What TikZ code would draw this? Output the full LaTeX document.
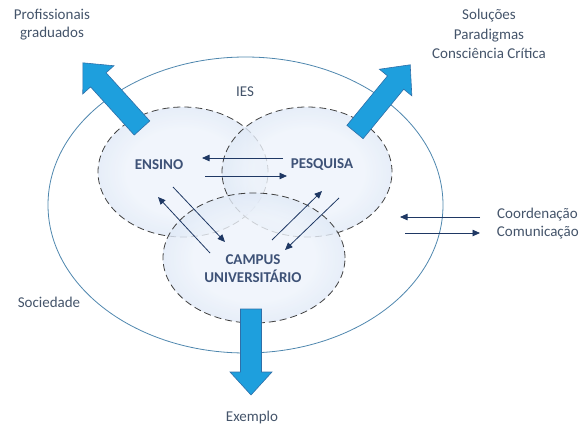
\documentclass[tikz,border=0pt]{standalone}
\usepackage{fontspec}
\setmainfont{Carlito}
\usetikzlibrary{shapes.geometric,arrows.meta}
\definecolor{txt}{HTML}{44546A}
\definecolor{intxt}{HTML}{3E5277}
\definecolor{navy}{HTML}{1F3864}
\definecolor{bigfill}{HTML}{1E9FDD}
\definecolor{bigedge}{HTML}{2F6FA8}
\definecolor{ring}{HTML}{4F87AE}
\definecolor{cin}{HTML}{EEF3FB}
\definecolor{cout}{HTML}{BACFEC}
\pgfdeclareradialshading{glow}{\pgfpoint{0bp}{0bp}}{color(0bp)=(cin); color(16bp)=(cin); color(50bp)=(cout)}
\tikzset{
  lbl/.style={text=txt, font=\fontsize{15}{18}\selectfont, align=center, inner sep=0pt},
  inlbl/.style={lbl, text=intxt, font=\fontsize{15}{18}\selectfont\bfseries},
  zone/.style={ellipse, draw=black!75, dash pattern=on 7pt off 4pt, line width=0.8pt,
    shade, shading=glow, fill opacity=0.8, draw opacity=1, inner sep=0pt},
  link/.style={draw=navy, line width=0.8pt, -{Triangle[length=7.5pt,width=6.5pt]}},
  bigarrow/.style={fill=bigfill, draw=bigedge, line width=0.6pt}
}
\begin{document}
\begin{tikzpicture}[x=1pt,y=1pt]
\useasboundingbox (0,0) rectangle (581,-425);
% society ellipse
\node[ellipse, draw=ring, line width=0.8pt, minimum width=395pt, minimum height=296pt, inner sep=0pt] (soc) at (245.5,-205) {};
% zones
\node[zone, minimum width=170pt, minimum height=130pt] (ens) at (183,-172) {};
\node[zone, minimum width=170pt, minimum height=130pt] (pes) at (307,-172) {};
\node[zone, minimum width=182pt, minimum height=130pt] (cam) at (254,-258) {};
% labels
\node[lbl] (ies) at (245,-92) {IES};
\node[inlbl] (tens) at (159,-165) {ENSINO};
\node[inlbl] (tpes) at (322,-165) {PESQUISA};
\node[inlbl] (tcam) at (253,-269) {CAMPUS\\UNIVERSITÁRIO};
\node[lbl] (tsoc) at (49,-302) {Sociedade};
\node[lbl] (tprof) at (52,-25) {Profissionais\\graduados};
\node[lbl, font=\fontsize{15}{19.5}\selectfont] (tsol) at (489,-34) {Soluções\\Paradigmas\\Consciência Crítica};
\node[lbl, anchor=east] (tcoo) at (578,-215) {Coordenação};
\node[lbl, anchor=east] (tcom) at (579,-233) {Comunicação};
\node[lbl] (texe) at (252,-417) {Exemplo};
% small connectors
\coordinate (a1) at (283,-158); \coordinate (a2) at (202,-158);
\coordinate (b1) at (205,-176); \coordinate (b2) at (287,-176);
\coordinate (c1) at (173,-187); \coordinate (c2) at (225,-242);
\coordinate (d1) at (210,-253); \coordinate (d2) at (158,-197);
\coordinate (e1) at (272,-240); \coordinate (e2) at (322,-191);
\coordinate (f1) at (339,-198); \coordinate (f2) at (285,-250);
\coordinate (g1) at (480,-217); \coordinate (g2) at (400,-217);
\coordinate (h1) at (405,-233); \coordinate (h2) at (480,-233);
\draw[link] (a1) -- (a2);
\draw[link] (b1) -- (b2);
\draw[link] (c1) -- (c2);
\draw[link] (d1) -- (d2);
\draw[link] (e1) -- (e2);
\draw[link] (f1) -- (f2);
\draw[link] (g1) -- (g2);
\draw[link] (h1) -- (h2);
% big arrows
\begin{scope}[shift={(142,-128)}, rotate=132.2]
  \path[bigarrow] (0,-10.5) -- (65,-10.5) -- (65,-21) -- (88,0) -- (65,21) -- (65,10.5) -- (0,10.5) -- cycle;
\end{scope}
\begin{scope}[shift={(355,-132)}, rotate=50.6]
  \path[bigarrow] (0,-10.5) -- (64,-10.5) -- (64,-21) -- (87,0) -- (64,21) -- (64,10.5) -- (0,10.5) -- cycle;
\end{scope}
\begin{scope}[shift={(251,-309)}, rotate=-90]
  \path[bigarrow] (0,-10.5) -- (63,-10.5) -- (63,-21) -- (86,0) -- (63,21) -- (63,10.5) -- (0,10.5) -- cycle;
\end{scope}
\end{tikzpicture}
\end{document}
